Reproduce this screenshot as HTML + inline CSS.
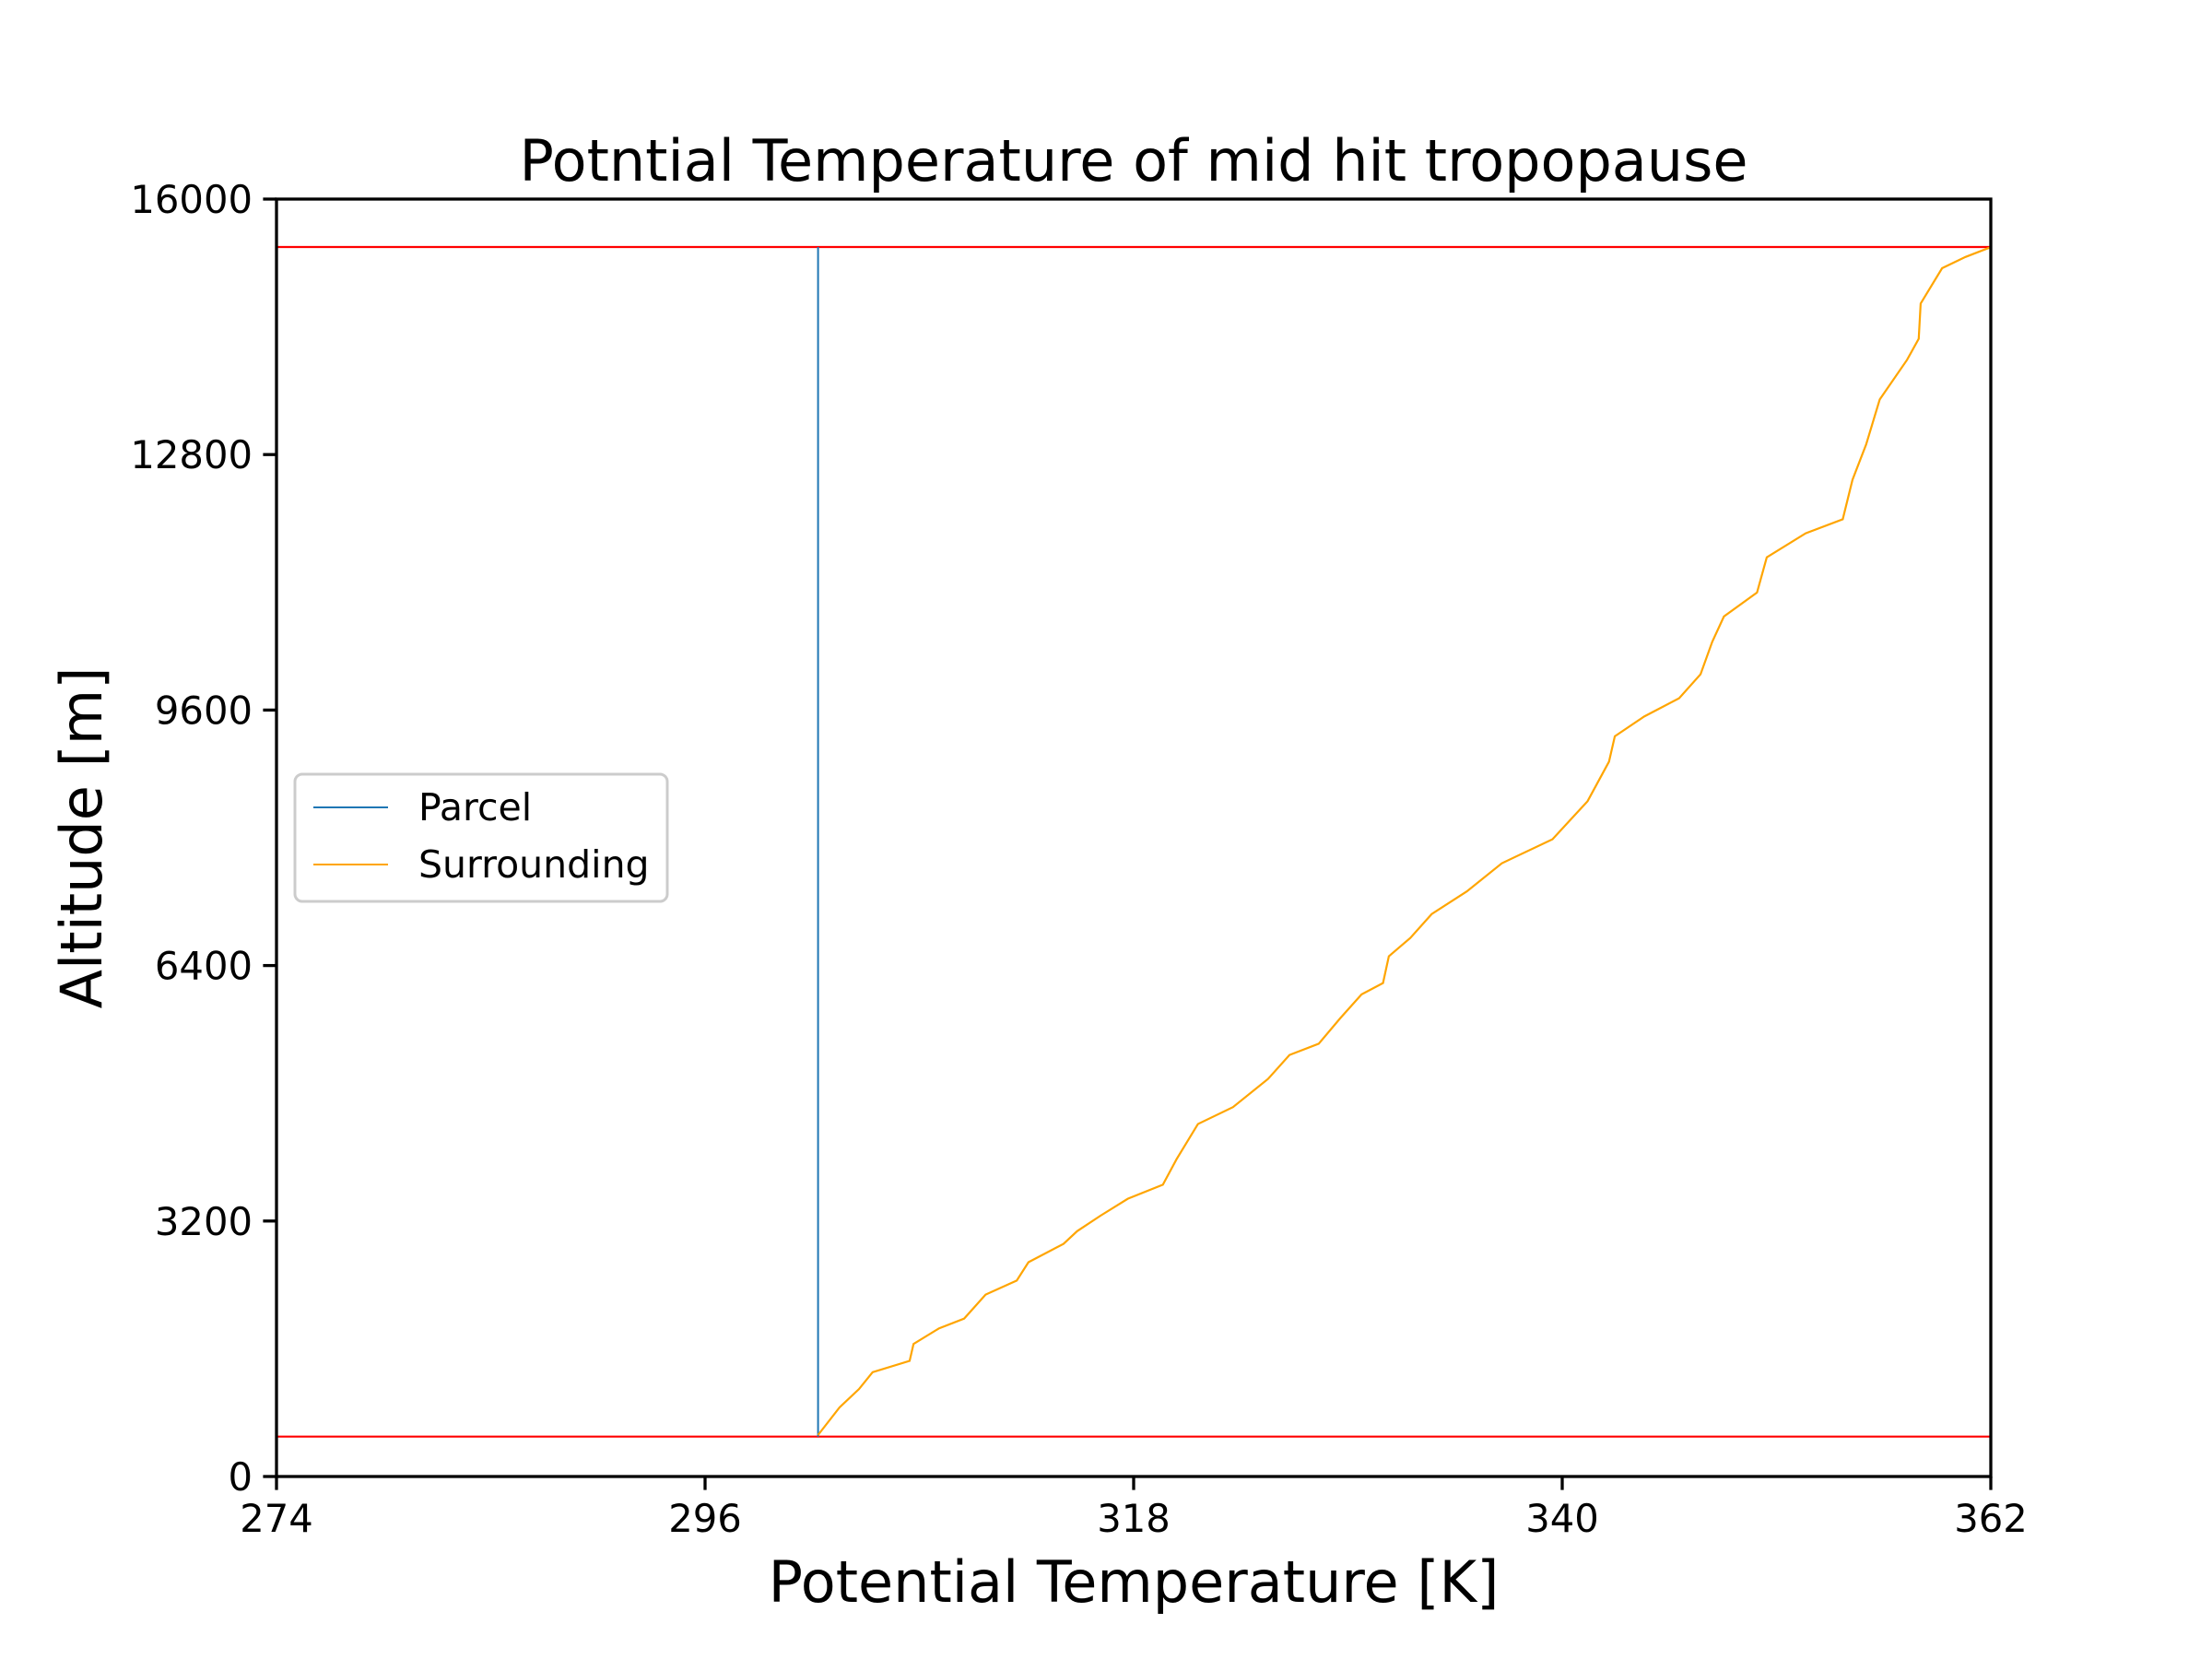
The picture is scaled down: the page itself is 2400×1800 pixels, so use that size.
<!DOCTYPE html>
<html><head><meta charset="utf-8"><style>
html,body{margin:0;padding:0;background:#fff;}
svg{display:block;font-family:"DejaVu Sans","Liberation Sans",sans-serif;}
</style></head><body>
<svg id="chart" width="2400" height="1800" viewBox="0 0 2400 1800">
<rect width="2400" height="1800" fill="#fff"/>
<g id="plot"></g>
<text x="1230" y="196" font-size="62" text-anchor="middle">Potntial Temperature of mid hit tropopause</text>
<text x="1230" y="1738" font-size="62" text-anchor="middle">Potential Temperature [K]</text>
<text x="0" y="0" font-size="62" text-anchor="middle" transform="translate(110,909) rotate(-90)">Altitude [m]</text>
<g>
<rect x="320" y="840" width="404" height="138" rx="8" fill="#fff" stroke="#ccc" stroke-width="3"/>
<g>
<line x1="340" y1="876" x2="421" y2="876" stroke="#1f77b4" stroke-width="2"/>
<text x="454" y="890" font-size="41">Parcel</text></g>
<g>
<line x1="340" y1="938" x2="421" y2="938" stroke="orange" stroke-width="2"/>
<text x="454" y="952" font-size="41">Surrounding</text></g>
</g>
</svg>
<script>
const xTicks=[274,296,318,340,362];
const yTicks=[0,3200,6400,9600,12800,16000];
const tropoLevels=[500,15400];
const parcelTemp=[301.8,301.8];
const parcelAlt=[500,15400];
const surrTemp=[301.8,302.9,303.9,304.6,306.5,306.7,308,309.3,310.4,312,312.6,314.4,315.1,316.3,317.7,319.5,320.2,321.3,323.1,324.9,326,327.5,328.6,329.7,330.8,331.1,332.2,333.3,335.1,336.9,339.5,341.3,342.4,342.7,344.2,346,347.1,347.7,348.3,350,350.5,352.5,354.4,354.9,355.6,356.3,357.7,358.3,358.4,359.5,360.7,362];
const surrAlt=[520,865,1095,1307,1448,1660,1854,1978,2278,2455,2684,2914,3073,3267,3479,3655,3973,4415,4627,4980,5280,5421,5739,6039,6180,6516,6745,7045,7328,7681,7982,8458,8953,9271,9518,9748,10048,10454,10772,11072,11513,11814,11990,12484,12926,13491,13986,14250,14692,15134,15275,15398];
const L=300,R=2160,T=216,B=1602;
const xs=v=>L+(v-274)/(362-274)*(R-L);
const ys=v=>B-(v-0)/(16000-0)*(B-T);
const NS="http://www.w3.org/2000/svg";
const g=document.getElementById('plot');
function mk(tag,attrs){const e=document.createElementNS(NS,tag);for(const k in attrs)e.setAttribute(k,attrs[k]);g.appendChild(e);return e;}
tropoLevels.forEach((lv,i)=>{
 const e=mk('line',{x1:L,x2:R,y1:ys(lv),y2:ys(lv),stroke:'red','stroke-width':2.2});
 
 
});
const pp=parcelTemp.map((t,i)=>xs(t)+','+ys(parcelAlt[i])).join(' ');
const p1=mk('polyline',{points:pp,fill:'none',stroke:'#1f77b4','stroke-width':2});


const sp=surrTemp.map((t,i)=>xs(t)+','+ys(surrAlt[i])).join(' ');
const p2=mk('polyline',{points:sp,fill:'none',stroke:'orange','stroke-width':2.2});


const fr=mk('rect',{x:L,y:T,width:R-L,height:B-T,fill:'none',stroke:'#000','stroke-width':3.3});


xTicks.forEach(v=>{
 const x=xs(v);
 const tk=mk('line',{x1:x,x2:x,y1:B,y2:B+14.6,stroke:'#000','stroke-width':3.3});
 
 
 const t=mk('text',{x:x,y:B+60,'font-size':41.7,'text-anchor':'middle'});
 t.textContent=v;
 
 
});
yTicks.forEach(v=>{
 const y=ys(v);
 const tk=mk('line',{x1:L-14.6,x2:L,y1:y,y2:y,stroke:'#000','stroke-width':3.3});
 
 
 const t=mk('text',{x:L-26,y:y+15,'font-size':41.7,'text-anchor':'end'});
 t.textContent=v;
 
 
});
</script>
</body></html>
